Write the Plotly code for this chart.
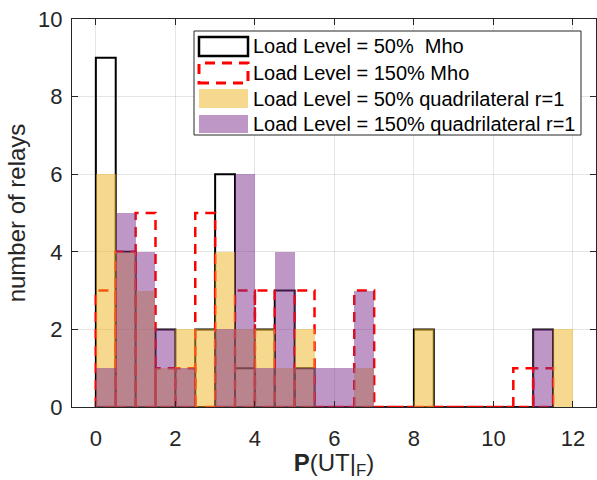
import plotly.graph_objects as go

# Histogram bins: width 0.5, left edges starting at 0
BIN_WIDTH = 0.5
bin_left = [0.0, 0.5, 1.0, 1.5, 2.0, 2.5, 3.0, 3.5, 4.0, 4.5, 5.0, 5.5,
            6.0, 6.5, 7.0, 7.5, 8.0, 8.5, 9.0, 9.5, 10.0, 10.5, 11.0, 11.5]

# Counts of relays per bin
mho_50 = [9, 4, 0, 2, 0, 2, 6, 1, 2, 3, 1, 0, 0, 0, 0, 0, 2, 0, 0, 0, 0, 0, 2]
mho_150 = [3, 4, 5, 1, 1, 5, 0, 3, 3, 0, 3, 0, 0, 3, 0, 0, 0, 0, 0, 0, 0, 1, 1]
quad_50 = [6, 4, 3, 1, 2, 2, 4, 2, 2, 1, 2, 0, 0, 1, 0, 0, 2, 0, 0, 0, 0, 0, 0, 2]
quad_150 = [1, 5, 4, 2, 1, 0, 2, 6, 1, 4, 1, 1, 1, 3, 0, 0, 0, 0, 0, 0, 0, 0, 2]

names = ["Load Level = 50%  Mho",
         "Load Level = 150% Mho",
         "Load Level = 50% quadrilateral r=1",
         "Load Level = 150% quadrilateral r=1"]

x_ticks = [0, 2, 4, 6, 8, 10, 12]
y_ticks = [0, 2, 4, 6, 8, 10]

FONT = "Liberation Sans, Arial, Helvetica, sans-serif"
AX_COLOR = "#262626"
YELLOW = "rgba(237,177,32,0.5)"
PURPLE = "rgba(126,47,142,0.5)"


def outline_path(counts):
    """Each bin drawn as its own rectangle outline."""
    xs, ys = [], []
    for left, c in zip(bin_left, counts):
        right = left + BIN_WIDTH
        xs += [left, left, right, right, left, None]
        ys += [0, c, c, 0, 0, None]
    return xs, ys


fig = go.Figure()

# Outline-only histograms (drawn underneath the translucent fills)
bx, by = outline_path(mho_50)
fig.add_trace(go.Scatter(x=bx, y=by, mode="lines", name=names[0],
                         line=dict(color="black", width=2),
                         showlegend=False, hoverinfo="skip"))
rx, ry = outline_path(mho_150)
fig.add_trace(go.Scatter(x=rx, y=ry, mode="lines", name=names[1],
                         line=dict(color="red", width=2.5, dash="10px,7px"),
                         showlegend=False, hoverinfo="skip"))

# Filled translucent histograms on an overlaid axis so they sit on top
fig.add_trace(go.Bar(x=bin_left[:len(quad_50)], y=quad_50, width=BIN_WIDTH,
                     offset=0, name=names[2], yaxis="y2",
                     marker=dict(color=YELLOW, line=dict(width=0)),
                     showlegend=False))
fig.add_trace(go.Bar(x=bin_left[:len(quad_150)], y=quad_150, width=BIN_WIDTH,
                     offset=0, name=names[3], yaxis="y2",
                     marker=dict(color=PURPLE, line=dict(width=0)),
                     showlegend=False))

# Plot area in pixels
L, T, R, B = 72, 19, 596, 407
W, H = 597, 480


def px(xp):
    return (xp - L) / (R - L)


def py(yp):
    return (B - yp) / (B - T)


# Legend box and entries
shapes = [dict(type="rect", xref="paper", yref="paper",
               x0=px(194), x1=px(581), y0=py(135), y1=py(31),
               line=dict(color=AX_COLOR, width=1), fillcolor="white",
               layer="above")]
rows = [(37, 56), (63, 83), (89, 108), (115, 133)]
styles = [dict(line=dict(color="black", width=2.5), fillcolor="rgba(0,0,0,0)"),
          dict(line=dict(color="red", width=3, dash="10px,7px"), fillcolor="rgba(0,0,0,0)"),
          dict(line=dict(width=0), fillcolor=YELLOW),
          dict(line=dict(width=0), fillcolor=PURPLE)]
annotations = []
for (y0, y1), st, name in zip(rows, styles, names):
    shapes.append(dict(type="rect", xref="paper", yref="paper",
                       x0=px(199), x1=px(248), y0=py(y1), y1=py(y0),
                       layer="above", **st))
    annotations.append(dict(xref="paper", yref="paper", x=px(251),
                            y=py((y0 + y1) / 2), text=name, showarrow=False,
                            xanchor="left", yanchor="middle",
                            font=dict(family=FONT, size=20, color="black")))

axis_common = dict(showline=True, linecolor=AX_COLOR, linewidth=1,
                   mirror="ticks", ticks="inside", ticklen=6,
                   tickcolor=AX_COLOR, showgrid=True,
                   gridcolor="rgba(38,38,38,0.12)", gridwidth=1,
                   zeroline=False, automargin=False,
                   tickfont=dict(family=FONT, size=22, color=AX_COLOR))

fig.update_layout(
    width=W, height=H,
    margin=dict(l=L, r=W - R, t=T, b=H - B),
    paper_bgcolor="white", plot_bgcolor="white",
    barmode="overlay", bargap=0,
    showlegend=False,
    xaxis=dict(range=[-0.6, 12.58], tickvals=x_ticks, ticklabelstandoff=12,
               title=dict(text="<b>P</b>(UT|<sub>F</sub>)", standoff=15,
                          font=dict(family=FONT, size=24, color=AX_COLOR)),
               **axis_common),
    yaxis=dict(range=[0, 10], tickvals=y_ticks, ticklabelstandoff=4,
               title=dict(text="number of relays", standoff=5,
                          font=dict(family=FONT, size=24, color=AX_COLOR)),
               **axis_common),
    yaxis2=dict(range=[0, 10], overlaying="y", visible=False),
    shapes=shapes,
    annotations=annotations,
)

fig.write_html("out.html")
